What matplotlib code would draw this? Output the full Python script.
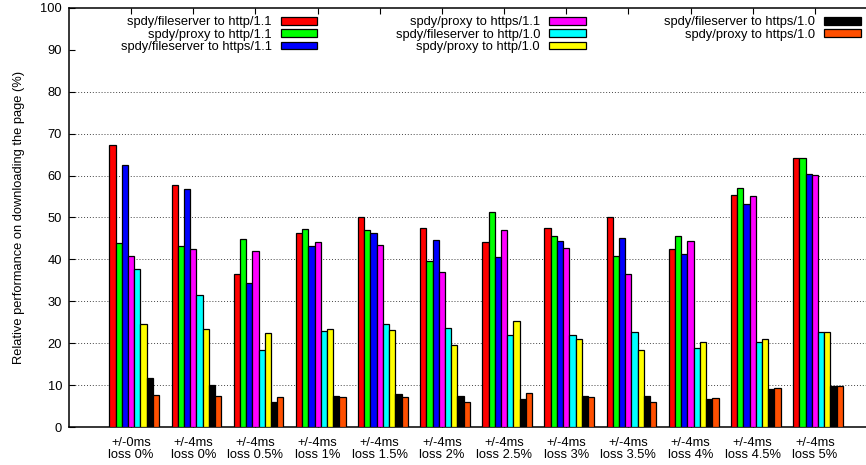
import matplotlib
matplotlib.use("Agg")
import matplotlib.pyplot as plt
import numpy as np

plt.rcParams['font.family'] = ['Liberation Sans', 'DejaVu Sans']

categories = ['+/-0ms\nloss 0%', '+/-4ms\nloss 0%', '+/-4ms\nloss 0.5%', '+/-4ms\nloss 1%',
              '+/-4ms\nloss 1.5%', '+/-4ms\nloss 2%', '+/-4ms\nloss 2.5%', '+/-4ms\nloss 3%',
              '+/-4ms\nloss 3.5%', '+/-4ms\nloss 4%', '+/-4ms\nloss 4.5%', '+/-4ms\nloss 5%']

series_names = ['spdy/fileserver to http/1.1', 'spdy/proxy to http/1.1',
                'spdy/fileserver to https/1.1', 'spdy/proxy to https/1.1',
                'spdy/fileserver to http/1.0', 'spdy/proxy to http/1.0',
                'spdy/fileserver to https/1.0', 'spdy/proxy to https/1.0']

fs_http11 = [67.3, 57.8, 36.6, 46.2, 50.0, 47.4, 44.2, 47.5, 50.0, 42.5, 55.3, 64.3]
proxy_http11 = [44.0, 43.1, 44.9, 47.2, 46.9, 39.5, 51.2, 45.6, 40.7, 45.5, 57.1, 64.3]
fs_https11 = [62.6, 56.8, 34.3, 43.2, 46.3, 44.6, 40.5, 44.5, 45.0, 41.4, 53.3, 60.4]
proxy_https11 = [40.9, 42.4, 42.1, 44.1, 43.4, 37.1, 47.1, 42.7, 36.5, 44.3, 55.1, 60.1]
fs_http10 = [37.7, 31.6, 18.3, 23.0, 24.7, 23.6, 21.9, 21.9, 22.7, 18.9, 20.3, 22.6]
proxy_http10 = [24.6, 23.4, 22.5, 23.5, 23.1, 19.5, 25.4, 21.0, 18.4, 20.2, 21.0, 22.6]
fs_https10 = [11.8, 10.0, 5.9, 7.3, 7.8, 7.3, 6.8, 7.5, 7.4, 6.6, 9.1, 9.8]
proxy_https10 = [7.7, 7.4, 7.1, 7.2, 7.2, 6.0, 8.0, 7.2, 6.0, 6.9, 9.4, 9.8]

series_values = [fs_http11, proxy_http11, fs_https11, proxy_https11,
                 fs_http10, proxy_http10, fs_https10, proxy_https10]
colors = ['#ff0000', '#00ff00', '#0000ff', '#ff00ff', '#00ffff', '#ffff00', '#000000', '#ff4f00']

FS = 9.3
W, H = 866, 465
fig = plt.figure(figsize=(W / 100, H / 100), dpi=100)
ax = fig.add_axes([69 / W, (H - 427) / H, 808 / W, 419 / H])

x = np.arange(len(categories))
bw = 0.1
for j, (name, vals, c) in enumerate(zip(series_names, series_values, colors)):
    ax.bar(x + (j - 3) * bw, vals, width=bw, color=c, edgecolor='black',
           linewidth=0.9, label=name, zorder=3)

ax.set_xlim(-1, 12)
ax.set_ylim(0, 100)
ax.set_yticks(np.arange(0, 101, 10))
ax.set_xticks(x)
ax.set_xticklabels(categories, fontsize=FS, linespacing=1.0)
ax.tick_params(axis='y', labelsize=FS, pad=5)
ax.tick_params(direction='in', top=True, right=True, length=4.5, width=0.8)
ax.tick_params(axis='x', pad=7)

ax.yaxis.grid(True, linestyle=(0, (1, 2)), color='#444444', linewidth=0.7, zorder=0)
for gl, v in zip(ax.yaxis.get_gridlines(), np.arange(0, 101, 10)):
    if v >= 90 or v == 0:
        gl.set_visible(False)
ax.set_axisbelow(True)

for s in ax.spines.values():
    s.set_linewidth(1.1)

ax.set_ylabel('Relative performance on downloading the page (%)', fontsize=FS)
ax.yaxis.set_label_coords(-0.0545, 0.5)

leg = ax.legend(ncol=3, loc='upper right', bbox_to_anchor=(861 / W, (H - 16.5) / H),
                bbox_transform=fig.transFigure, frameon=False, markerfirst=False,
                fontsize=FS, handlelength=2.86, handleheight=0.52, handletextpad=0.7,
                labelspacing=0.02, columnspacing=6.04, borderpad=0, borderaxespad=0)

fig.savefig('out.png', dpi=100)
